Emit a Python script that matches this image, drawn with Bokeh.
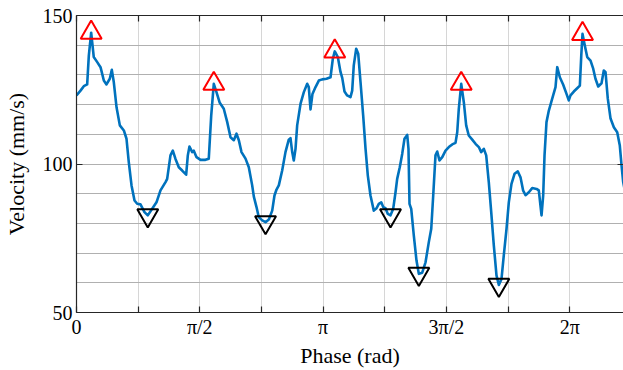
import math
from bokeh.plotting import figure
from bokeh.models import FixedTicker, LinearAxis, ColumnDataSource
from bokeh.embed import file_html
from bokeh.resources import INLINE

# ---- data ----
phase = [0.000, 0.051, 0.093, 0.136, 0.157, 0.187, 0.220, 0.264, 0.306, 0.348,
         0.382, 0.424, 0.450, 0.475, 0.510, 0.552, 0.603, 0.637, 0.666, 0.701,
         0.739, 0.773, 0.815, 0.866, 0.908, 0.964, 1.019, 1.070, 1.134, 1.155,
         1.197, 1.227, 1.261, 1.303, 1.346, 1.397, 1.418, 1.439, 1.474, 1.494,
         1.529, 1.580, 1.643, 1.685, 1.716, 1.749, 1.783, 1.825, 1.876, 1.920,
         1.962, 2.004, 2.038, 2.068, 2.102, 2.153, 2.195, 2.238, 2.259, 2.293,
         2.322, 2.366, 2.408, 2.450, 2.493, 2.522, 2.548, 2.577, 2.620, 2.662,
         2.704, 2.726, 2.748, 2.768, 2.790, 2.811, 2.854, 2.896, 2.939, 2.959,
         2.981, 3.006, 3.045, 3.087, 3.130, 3.185, 3.236, 3.265, 3.290, 3.329,
         3.363, 3.385, 3.414, 3.448, 3.490, 3.512, 3.532, 3.563, 3.589, 3.618,
         3.652, 3.682, 3.711, 3.745, 3.787, 3.822, 3.851, 3.882, 3.907, 3.936,
         3.966, 4.000, 4.034, 4.064, 4.085, 4.118, 4.149, 4.178, 4.213, 4.229,
         4.242, 4.264, 4.297, 4.331, 4.361, 4.404, 4.446, 4.488, 4.519, 4.544,
         4.573, 4.595, 4.624, 4.659, 4.701, 4.743, 4.786, 4.828, 4.850, 4.870,
         4.901, 4.934, 4.964, 4.997, 5.041, 5.083, 5.125, 5.155, 5.189, 5.219,
         5.252, 5.283, 5.316, 5.350, 5.380, 5.414, 5.443, 5.478, 5.507, 5.541,
         5.580, 5.622, 5.656, 5.690, 5.720, 5.762, 5.805, 5.860, 5.889, 5.924,
         5.945, 5.962, 5.987, 6.017, 6.060, 6.102, 6.124, 6.157, 6.200, 6.242,
         6.271, 6.293, 6.335, 6.378, 6.412, 6.430, 6.446, 6.475, 6.506, 6.548,
         6.582, 6.611, 6.646, 6.688, 6.717, 6.739, 6.768, 6.803, 6.845, 6.888,
         6.921, 6.943, 6.964, 7.000]
velocity = [123.1, 124.7, 126.2, 126.8, 136.5, 144.2, 136.0, 134.3, 132.6, 128.1,
            126.8, 128.7, 131.7, 127.6, 119.1, 113.0, 111.3, 108.5, 100.6, 92.8,
            87.7, 86.6, 86.4, 83.8, 82.7, 84.9, 87.1, 91.1, 93.9, 95.0,
            102.9, 104.5, 101.7, 98.9, 97.8, 96.4, 102.9, 105.9, 104.0, 104.5,
            102.3, 101.4, 101.4, 101.8, 116.3, 127.0, 124.2, 120.6, 118.6, 114.1,
            109.0, 108.0, 110.2, 108.0, 104.0, 101.8, 98.9, 92.8, 89.0, 85.5,
            82.1, 81.0, 80.4, 81.3, 84.3, 89.4, 91.4, 92.8, 97.8, 104.0,
            108.2, 108.7, 104.0, 101.2, 105.1, 113.0, 120.3, 124.2, 127.0, 125.9,
            118.4, 123.6, 125.9, 128.1, 128.5, 128.7, 129.2, 135.4, 137.9, 136.0,
            131.0, 129.0, 124.4, 123.1, 122.5, 124.7, 133.2, 138.8, 137.1, 127.6,
            116.3, 105.1, 96.1, 89.4, 84.3, 85.1, 86.6, 87.1, 85.5, 85.1,
            83.2, 82.7, 84.9, 90.5, 95.0, 98.9, 103.4, 108.5, 109.8, 105.1,
            86.6, 84.9, 75.9, 67.5, 63.0, 63.4, 66.9, 73.7, 78.2, 89.4,
            102.9, 104.2, 101.2, 102.3, 104.5, 105.7, 106.6, 107.1, 110.7, 118.6,
            127.0, 120.8, 113.0, 109.6, 108.2, 106.8, 105.7, 104.0, 105.1, 102.9,
            93.9, 83.8, 72.6, 62.5, 59.3, 61.3, 69.2, 78.2, 87.1, 93.3,
            96.7, 97.5, 95.5, 91.0, 89.5, 90.5, 91.9, 91.6, 91.1, 82.7,
            89.4, 102.9, 114.1, 118.0, 122.0, 125.9, 132.6, 129.2, 126.7, 123.6,
            121.4, 123.1, 124.4, 125.5, 126.4, 136.5, 143.8, 139.9, 136.0, 134.8,
            132.1, 128.7, 126.1, 127.2, 131.5, 130.9, 122.0, 115.3, 112.4, 110.7,
            106.2, 99.5, 93.9, 89.0]

peak_phase = [0.187, 1.749, 3.290, 4.901, 6.446]
peak_velocity = [144.2, 127.0, 137.9, 127.0, 143.8]
valley_phase = [0.908, 2.408, 4.000, 4.361, 5.380]
valley_velocity = [82.7, 80.4, 82.7, 63.0, 59.3]

x_tick_labels = ["0", "π/2", "π", "3π/2", "2π"]
y_ticks = [50, 100, 150]
y_grid_lines = [60, 70, 80, 90, 100, 110, 120, 130, 140]

# ---- style ----
FONT = "Liberation Serif"
AX = "#262626"
x_major = [k * math.pi / 2 for k in range(len(x_tick_labels))]
x_minor = [math.pi / 4 + k * math.pi / 2 for k in range(len(x_tick_labels) - 1)]
x_all = sorted(x_major + x_minor)

p = figure(width=623, height=370, x_range=(0, 6.968), y_range=(50, 150),
           output_backend="svg", toolbar_location=None,
           min_border_left=76, min_border_right=0, min_border_top=15,
           min_border_bottom=58)
p.outline_line_color = None
p.background_fill_color = "white"

# grids
p.xgrid.ticker = FixedTicker(ticks=x_all)
p.xgrid.grid_line_color = "#d6d6d6"
p.xgrid.grid_line_width = 1
p.ygrid.ticker = FixedTicker(ticks=y_grid_lines)
p.ygrid.grid_line_color = "#b0b0b0"
p.ygrid.grid_line_width = 1.2

# bottom axis
xa = p.xaxis[0]
xa.ticker = FixedTicker(ticks=x_major, minor_ticks=x_minor)
xa.major_label_overrides = {t: lab for t, lab in zip(x_major, x_tick_labels)}
xa.axis_label = "Phase (rad)"

# left axis
ya = p.yaxis[0]
ya.ticker = FixedTicker(ticks=y_ticks)
ya.axis_label = "Velocity (mm/s)"

for ax in (xa, ya):
    ax.axis_line_color = AX
    ax.axis_line_width = 1.2
    ax.major_tick_line_color = AX
    ax.major_tick_line_width = 1.2
    ax.major_tick_in = 6
    ax.major_tick_out = 0
    ax.minor_tick_line_color = AX
    ax.minor_tick_line_width = 1.2
    ax.minor_tick_in = 6
    ax.minor_tick_out = 0
    ax.major_label_text_font = FONT
    ax.major_label_text_font_size = "20px"
    ax.major_label_text_color = "black"
    ax.axis_label_text_font = FONT
    ax.axis_label_text_font_size = "22px"
    ax.axis_label_text_font_style = "normal"
    ax.axis_label_text_color = "black"
xa.major_label_standoff = 3
xa.axis_label_standoff = 2
ya.major_label_standoff = 4
ya.axis_label_standoff = 11

# top axis (box line + inward ticks, no labels)
top = LinearAxis(ticker=FixedTicker(ticks=x_all), axis_line_color=AX,
                 axis_line_width=1.2, major_tick_line_color=AX,
                 major_tick_line_width=1.2, major_tick_in=6, major_tick_out=0,
                 minor_tick_line_color=None, major_label_text_color=None,
                 major_label_standoff=0)
p.add_layout(top, "above")

# right axis (only inward ticks visible)
right = LinearAxis(ticker=FixedTicker(ticks=y_ticks), axis_line_color=None,
                   major_tick_line_color=AX, major_tick_line_width=1.2,
                   major_tick_in=6, major_tick_out=0,
                   minor_tick_line_color=None, major_label_text_color=None,
                   major_label_standoff=0)
p.add_layout(right, "right")

# data
src = ColumnDataSource(dict(x=phase, y=velocity))
p.line("x", "y", source=src, line_color="#0072BD", line_width=2.6,
       line_join="round")

pk = ColumnDataSource(dict(x=peak_phase, y=peak_velocity))
p.scatter("x", "y", source=pk, marker="triangle", size=21,
          fill_color=None, line_color="#ff0000", line_width=2)
vl = ColumnDataSource(dict(x=valley_phase, y=valley_velocity))
p.scatter("x", "y", source=vl, marker="inverted_triangle", size=21,
          fill_color=None, line_color="black", line_width=2)

open("out.html", "w").write(file_html(p, INLINE))
